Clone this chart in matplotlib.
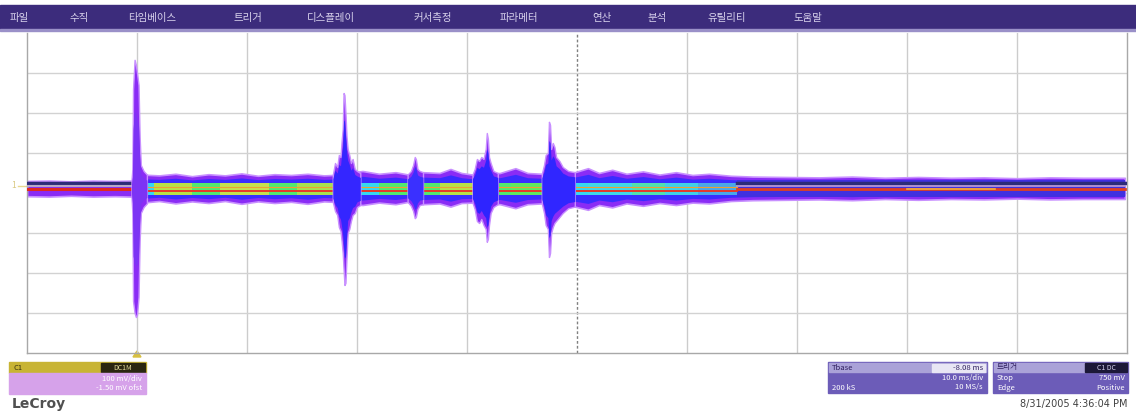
import matplotlib.pyplot as plt
from matplotlib.patches import Rectangle, Polygon

plt.rcParams['font.family'] = ['Noto Sans CJK KR', 'DejaVu Sans']

W, H = 1136, 412

# menu bar
menu_items = ['파일', '수직', '타임베이스', '트리거', '디스플레이', '커서측정',
              '파라메터', '연산', '분석', '유틸리티', '도움말']
menu_x = [10, 70, 128, 233, 307, 413, 500, 592, 648, 707, 793]

# quiet trace envelope (time in div, amplitude in div)
base_t = [0.0, 0.2, 0.4, 0.6, 0.8, 0.95, 1.05, 1.2, 1.35, 1.5, 1.65, 1.8, 1.95,
          2.1, 2.25, 2.4, 2.55, 2.7, 2.78, 3.05, 3.2, 3.35, 3.47, 3.6, 3.75,
          3.85, 3.95, 4.05, 4.3, 4.44, 4.55, 4.68, 4.98, 5.1, 5.2, 5.32, 5.45,
          5.6, 5.75, 5.9, 6.05, 6.2, 6.4, 6.6, 6.9, 7.2, 7.5, 7.8, 8.1, 8.4,
          8.7, 9.0, 9.3, 9.6, 9.98]
base_hi = [0.30, 0.31, 0.29, 0.31, 0.30, 0.31, 0.46, 0.44, 0.48, 0.42, 0.47,
           0.44, 0.49, 0.43, 0.47, 0.45, 0.48, 0.44, 0.45, 0.55, 0.48, 0.52,
           0.46, 0.52, 0.50, 0.60, 0.50, 0.46, 0.50, 0.62, 0.50, 0.48, 0.52,
           0.62, 0.50, 0.58, 0.48, 0.54, 0.46, 0.52, 0.45, 0.48, 0.43, 0.41,
           0.40, 0.39, 0.41, 0.38, 0.40, 0.38, 0.39, 0.37, 0.39, 0.38, 0.38]
base_lo = [-0.08, -0.09, -0.07, -0.09, -0.08, -0.09, -0.24, -0.20, -0.26,
           -0.21, -0.25, -0.20, -0.27, -0.21, -0.25, -0.22, -0.27, -0.21,
           -0.22, -0.30, -0.24, -0.28, -0.22, -0.28, -0.26, -0.34, -0.25,
           -0.24, -0.28, -0.38, -0.28, -0.26, -0.34, -0.42, -0.30, -0.36,
           -0.26, -0.32, -0.25, -0.30, -0.24, -0.26, -0.20, -0.18, -0.17,
           -0.16, -0.18, -0.15, -0.17, -0.15, -0.16, -0.14, -0.16, -0.15,
           -0.15]

# the five bursts
burst_t = [
    [0.95, 0.958, 0.964, 0.978, 0.99, 1.0, 1.014, 1.024, 1.035, 1.06, 1.09],
    [2.78, 2.80, 2.82, 2.835, 2.85, 2.86, 2.87, 2.878, 2.886, 2.895, 2.905,
     2.915, 2.93, 2.945, 2.96, 2.98, 3.0, 3.03],
    [3.46, 3.49, 3.51, 3.525, 3.535, 3.55, 3.57, 3.6],
    [4.05, 4.07, 4.09, 4.11, 4.13, 4.15, 4.17, 4.18, 4.19, 4.2, 4.215, 4.24, 4.28],
    [4.68, 4.70, 4.715, 4.735, 4.745, 4.755, 4.765, 4.78, 4.795, 4.81, 4.84,
     4.87, 4.92, 4.98],
]
burst_hi = [
    [0.31, 0.6, 2.6, 3.33, 3.2, 3.0, 2.7, 1.4, 0.7, 0.55, 0.46],
    [0.45, 0.75, 0.65, 0.95, 0.9, 1.3, 1.6, 2.5, 2.45, 2.0, 1.4, 1.1, 0.95,
     0.75, 0.85, 0.6, 0.55, 0.5],
    [0.46, 0.55, 0.7, 0.9, 0.85, 0.6, 0.55, 0.52],
    [0.46, 0.6, 0.85, 0.8, 0.9, 0.85, 1.1, 1.5, 1.35, 0.9, 0.75, 0.55, 0.5],
    [0.48, 0.7, 0.95, 1.0, 1.78, 1.7, 1.1, 1.25, 1.15, 0.9, 0.8, 0.65, 0.55,
     0.52],
]
burst_lo = [
    [-0.09, -0.5, -2.7, -3.0, -3.1, -3.05, -2.6, -1.2, -0.5, -0.35, -0.26],
    [-0.22, -0.45, -0.55, -0.85, -0.95, -1.2, -1.5, -1.9, -2.3, -2.25, -1.6,
     -1.0, -0.9, -0.7, -0.55, -0.5, -0.35, -0.3],
    [-0.22, -0.32, -0.45, -0.63, -0.6, -0.4, -0.3, -0.28],
    [-0.24, -0.4, -0.7, -0.75, -0.65, -0.8, -0.9, -1.22, -1.15, -0.8, -0.5,
     -0.35, -0.28],
    [-0.26, -0.5, -0.8, -0.9, -1.6, -1.5, -1.0, -0.85, -0.75, -0.7, -0.6,
     -0.5, -0.38, -0.34],
]
burst_inner = ['#7c34f4', '#3426ff', '#3a30ff', '#2e24ff', '#3026ff']
burst_scale = [0.6, 0.72, 0.7, 0.72, 0.72]

# colour-graded core of the trace between the bursts
core_start = [1.03, 1.15, 1.5, 1.75, 2.2, 2.45, 3.03, 3.2, 3.58, 3.75, 4.24,
              4.4, 4.86, 5.1, 5.5, 5.8, 6.1]
core_end = [1.15, 1.5, 1.75, 2.2, 2.45, 2.78, 3.2, 3.46, 3.75, 4.05, 4.4,
            4.68, 5.1, 5.5, 5.8, 6.1, 6.45]
core_color = ['#36d8f0', '#b8e048', '#52e870', '#c4e050', '#52e870', '#a8e050',
              '#36d8f0', '#52e870', '#52e870', '#b8e048', '#52e870', '#60e860',
              '#36d8f0', '#40d8e8', '#50e0b0', '#40d0e8', '#4aa8e8']

PURPLE = '#8a2cf5'
HALO = '#c890ff'
BLUE = '#3a2cff'

fig = plt.figure(figsize=(W / 100, H / 100), dpi=100)

# page chrome drawn in pixel coordinates
bg = fig.add_axes([0, 0, 1, 1], zorder=0)
bg.set_xlim(0, W)
bg.set_ylim(H, 0)
bg.axis('off')

bg.add_patch(Rectangle((0, 5), W, 25, color='#3c2c7c'))
bg.add_patch(Rectangle((0, 29), W, 2, color='#9a90c8'))
for label, x in zip(menu_items, menu_x):
    bg.text(x, 17.5, label, color='#d8d2ec', fontsize=7.5, va='center', ha='left')

# channel descriptor
bg.add_patch(Rectangle((9, 362), 137, 11, color='#c8b434'))
bg.add_patch(Rectangle((101, 363), 44, 9, color='#2a2610'))
bg.text(13, 367.5, 'C1', color='#3a3410', fontsize=5.5, va='center')
bg.text(123, 367.5, 'DC1M', color='#e8e0a0', fontsize=5, va='center', ha='center')
bg.add_patch(Rectangle((9, 373), 137, 21, color='#d6a2ea'))
bg.text(142, 379, '100 mV/div', color='white', fontsize=5.5, va='center', ha='right')
bg.text(142, 388.5, '-1.50 mV ofst', color='white', fontsize=5.5, va='center', ha='right')
bg.text(12, 404, 'LeCroy', color='#505050', fontsize=10, fontweight='bold',
        va='center', ha='left', family='DejaVu Sans')

# timebase descriptor
bg.add_patch(Rectangle((828, 362), 159, 31, color='#6c5cb8'))
bg.add_patch(Rectangle((829, 363), 157, 9, color='#aaa2d8'))
bg.add_patch(Rectangle((932, 363.5), 53, 8, color='#e8e6f4'))
bg.text(832, 367.5, 'Tbase', color='#302060', fontsize=5.5, va='center')
bg.text(983, 367.5, '-8.08 ms', color='#302060', fontsize=5.5, va='center', ha='right')
bg.text(983, 378, '10.0 ms/div', color='white', fontsize=5.5, va='center', ha='right')
bg.text(832, 387.5, '200 kS', color='white', fontsize=5.5, va='center')
bg.text(983, 387.5, '10 MS/s', color='white', fontsize=5.5, va='center', ha='right')

# trigger descriptor
bg.add_patch(Rectangle((993, 362), 135, 31, color='#6c5cb8'))
bg.add_patch(Rectangle((994, 363), 133, 9, color='#aaa2d8'))
bg.add_patch(Rectangle((1085, 363), 42, 9, color='#1c1838'))
bg.text(997, 367.5, '트리거', color='#302060', fontsize=5.5, va='center')
bg.text(1106, 367.5, 'C1 DC', color='#d8d4f0', fontsize=5, va='center', ha='center')
bg.text(997, 378, 'Stop', color='white', fontsize=5.5, va='center')
bg.text(1125, 378, '750 mV', color='white', fontsize=5.5, va='center', ha='right')
bg.text(997, 387.5, 'Edge', color='white', fontsize=5.5, va='center')
bg.text(1125, 387.5, 'Positive', color='white', fontsize=5.5, va='center', ha='right')
bg.text(1128, 404, '8/31/2005 4:36:04 PM', color='#404040', fontsize=7,
        va='center', ha='right', family='DejaVu Sans')

# channel ground marker on the left edge
bg.text(14, 185, '1', color='#d8c880', fontsize=6, va='center', ha='center')
bg.plot([18, 27], [186, 186], color='#e8d890', lw=1)
# trigger position marker under the grid
bg.add_patch(Polygon([[133, 357], [141, 357], [137, 351]], color='#d8c040'))

# waveform grid
ax = fig.add_axes([27 / W, (H - 353) / H, 1100 / W, 320 / H], zorder=1)
ax.set_xlim(0, 10)
ax.set_ylim(-4, 4)
ax.patch.set_alpha(0)
for s in ax.spines.values():
    s.set_color('#a8a8a8')
    s.set_linewidth(1)
ax.spines['top'].set_visible(False)
ax.set_xticks([])
ax.set_yticks([])
for i in range(1, 10):
    if i == 5:
        ax.axvline(i, color='#808080', lw=1, ls=(0, (2, 1.5)), zorder=0)
    else:
        ax.axvline(i, color='#cccccc', lw=1, zorder=0)
for j in range(-3, 4):
    ax.axhline(j, color='#d2d2d2', lw=1, zorder=0)

# persistence envelope
ax.fill_between(base_t, base_hi, base_lo, color=PURPLE, lw=1.2,
                edgecolor=HALO, zorder=2)
mid = 0.11
inner_hi = [mid + (v - mid) * 0.7 for v in base_hi]
inner_lo = [mid + (v - mid) * 0.7 for v in base_lo]
ax.fill_between(base_t[6:], inner_hi[6:], inner_lo[6:], color=BLUE, lw=0, zorder=3)

# quiet segment before the first burst
ax.plot([0, 0.97], [0.26, 0.26], color='#2c2c78', lw=2.5, zorder=4)
ax.plot([0, 0.97], [0.175, 0.175], color='#b8a8c8', lw=1.5, zorder=4)
ax.plot([0, 0.97], [0.09, 0.09], color='#e02a20', lw=2.2, zorder=4)

# colour graded core
for t0, t1, c in zip(core_start, core_end, core_color):
    ax.fill_between([t0, t1], [0.25, 0.25], [-0.05, -0.05], color=c, lw=0, zorder=4)
ax.plot([1.03, 6.45], [0.06, 0.06], color='#e83828', lw=1.4, zorder=5)
ax.plot([1.03, 6.45], [0.14, 0.14], color='#f0a030', lw=0.8, zorder=5)

# tail of the trace
ax.fill_between([6.45, 9.98], [0.32, 0.32], [-0.1, -0.1], color='#4030e0', lw=0, zorder=4)
ax.plot([6.45, 9.98], [0.26, 0.26], color='#2c2c78', lw=2.5, zorder=5)
ax.plot([6.45, 9.98], [0.18, 0.18], color='#c0a0d0', lw=1.2, zorder=5)
ax.plot([6.45, 9.98], [0.1, 0.1], color='#e04020', lw=2.0, zorder=5)
ax.plot([8.0, 8.8], [0.1, 0.1], color='#f0b040', lw=1.2, zorder=5)

# bursts on top
for bt, bh, bl, ci, k in zip(burst_t, burst_hi, burst_lo, burst_inner, burst_scale):
    ax.fill_between(bt, bh, bl, color=PURPLE, lw=1.0, edgecolor=HALO, zorder=6)
    ih = [mid + (v - mid) * k for v in bh]
    il = [mid + (v - mid) * k for v in bl]
    ax.fill_between(bt, ih, il, color=ci, lw=0, zorder=7)

fig.savefig('out.png', dpi=100)
